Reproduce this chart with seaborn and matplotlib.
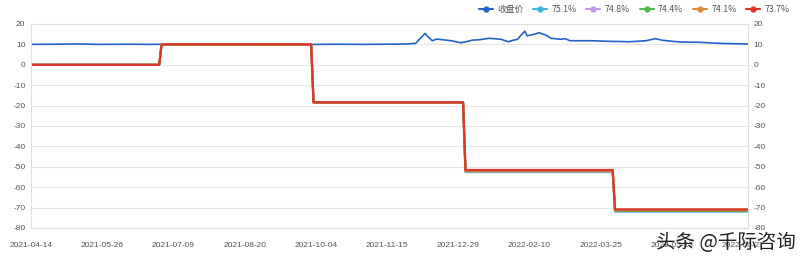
import numpy as np
import pandas as pd
import matplotlib
matplotlib.use("Agg")
import matplotlib.pyplot as plt
from matplotlib.lines import Line2D
import seaborn as sns

# ---- data ----
tick_labels = ["2021-04-14", "2021-05-26", "2021-07-09", "2021-08-20", "2021-10-04",
               "2021-11-15", "2021-12-29", "2022-02-10", "2022-03-25", "2022-05-13", "2022-06-27"]
tick_idx = [0, 30, 60, 90, 120, 150, 180, 210, 240, 270, 300]

close_idx = [0, 10, 20, 30, 40, 50, 60, 70, 80, 90, 100, 110, 120, 130, 140, 150, 158, 162, 164,
             166, 167, 169, 171, 174, 177, 181, 184, 186, 189, 193, 198, 201, 203, 205, 206, 208,
             209, 212, 214, 217, 219, 223, 225, 227, 236, 244, 252, 259, 263, 266, 273, 282, 290, 302]
close_vals = [10.0, 10.1, 10.2, 10.0, 10.1, 10.0, 10.1, 10.0, 10.1, 10.0, 10.1, 10.0, 10.0, 10.1,
              10.0, 10.1, 10.2, 10.5, 13.0, 15.4, 14.0, 11.8, 12.6, 12.2, 11.8, 10.8, 11.5, 12.1,
              12.3, 13.0, 12.5, 11.3, 12.0, 12.5, 14.0, 16.5, 14.2, 15.0, 15.7, 14.5, 13.0, 12.5,
              12.8, 11.8, 11.8, 11.5, 11.3, 11.8, 12.8, 12.0, 11.2, 11.0, 10.5, 10.2]

step_idx = [0, 54, 55, 118, 119, 182, 183, 245, 246, 302]
s751 = [0, 0, 10, 10, -18.5, -18.5, -52.6, -52.6, -72.0, -72.0]
s748 = [0, 0, 10, 10, -18.5, -18.5, -52.4, -52.4, -71.8, -71.8]
s744 = [0, 0, 10, 10, -18.5, -18.5, -52.2, -52.2, -71.6, -71.6]
s741 = [0, 0, 10, 10, -18.5, -18.5, -52.0, -52.0, -71.3, -71.3]
s737 = [0, 0, 10, 10, -18.4, -18.4, -51.6, -51.6, -70.9, -70.9]

series_names = ["收盘价", "75.1%", "74.8%", "74.4%", "74.1%", "73.7%"]
colors = ["#2362c8", "#3cb6da", "#c19ce6", "#4cbb4c", "#db8a3c", "#d9382a"]

# ---- plot ----
sns.set_theme(style="white")
plt.rcParams["font.family"] = ["Noto Sans CJK SC", "DejaVu Sans"]

fig = plt.figure(figsize=(8, 2.6), dpi=100)
ax = fig.add_axes([31 / 800, 1 - 228 / 260, (748 - 31) / 800, (228 - 24) / 260])

sns.lineplot(x=close_idx, y=close_vals, ax=ax, color=colors[0], linewidth=1.2)
for vals, c, lw in zip([s751, s748, s744, s741, s737], colors[1:], [1.5, 1.5, 1.5, 1.5, 1.7]):
    sns.lineplot(x=step_idx, y=vals, ax=ax, color=c, linewidth=lw)

ax.set_xlim(0, 302)
ax.set_ylim(-80, 20)
yt = list(range(-80, 21, 10))
ax.set_yticks(yt)
ax.set_yticklabels([str(v) for v in yt])
ax.set_xticks(tick_idx)
ax.set_xticklabels(tick_labels)
ax.grid(axis="y", color="#e6e6e6", linewidth=0.8)
ax.grid(axis="x", visible=False)
for sp in ax.spines.values():
    sp.set_color("#e0e0e0")
    sp.set_linewidth(0.8)
ax.tick_params(axis="both", length=0, colors="#555555", labelsize=6, pad=4)
ax.tick_params(axis="x", pad=10)
for lab in ax.get_xticklabels() + ax.get_yticklabels():
    lab.set_family(["Liberation Sans", "DejaVu Sans"])

ax2 = ax.twinx()
ax2.set_ylim(-80, 20)
ax2.set_yticks(yt)
ax2.set_yticklabels([str(v) for v in yt])
ax2.tick_params(axis="y", length=0, colors="#555555", labelsize=6, pad=4)
for lab in ax2.get_yticklabels():
    lab.set_family(["Liberation Sans", "DejaVu Sans"])
for sp in ax2.spines.values():
    sp.set_visible(False)
ax2.grid(False)

handles = [Line2D([0], [0], color=c, marker="o", markersize=3.5, linewidth=1.5) for c in colors]
fig.legend(handles, series_names, loc="upper right", bbox_to_anchor=(0.997, 1.01), ncol=6,
           frameon=False, fontsize=6.3, handlelength=1.6, handletextpad=0.5, columnspacing=1.1,
           labelcolor="#555555")

fig.text(0.995, 0.025, "头条 @千际咨询", ha="right", va="bottom", fontsize=14, color="#222222",
         family=["Noto Sans CJK SC", "DejaVu Sans"])

fig.savefig("out.png", dpi=100)
